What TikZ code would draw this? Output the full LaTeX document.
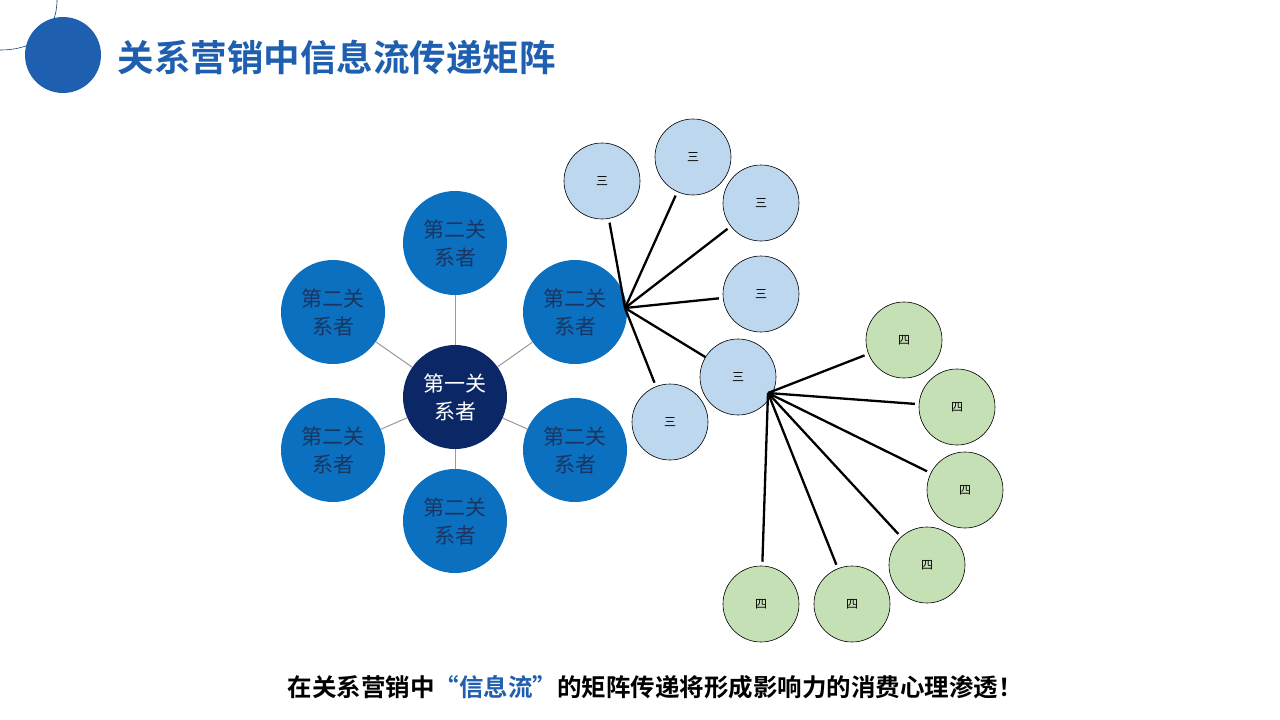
\documentclass[tikz,border=0pt]{standalone}
\usepackage{fontspec}
\newfontfamily\cjk{Noto Sans CJK SC}
\newfontfamily\cjkb{Noto Sans CJK SC Bold}
\definecolor{tblue}{HTML}{1F5FAF}
\definecolor{mblue}{HTML}{0A70BF}
\definecolor{dblue}{HTML}{0B2766}
\definecolor{lblue}{HTML}{BDD7EE}
\definecolor{lgreen}{HTML}{C5E0B4}
\definecolor{ntext}{HTML}{1B3560}
\begin{document}
\begin{tikzpicture}[x=1pt,y=-1pt,
  big/.style={circle,minimum size=104pt,inner sep=0pt,align=center,font=\cjk\fontsize{21}{28}\selectfont},
  outer/.style={big,fill=mblue,text=ntext},
  three/.style={circle,minimum size=76pt,inner sep=0pt,draw=black,line width=0.6pt,fill=lblue,font=\cjk\fontsize{12}{14}\selectfont},
  four/.style={three,fill=lgreen},
  thin/.style={draw=gray!80,line width=1pt},
  thick/.style={draw=black,line width=2.3pt}]
\useasboundingbox (0,0) rectangle (1280,720);
\fill[white] (0,0) rectangle (1280,720);
\draw[tblue!70!black,line width=0.6pt] (57,0) .. controls (57,32) and (35,50) .. (0,50);
\fill[tblue] (63,55) circle (38);
\node[anchor=west,text=tblue,font=\cjkb\fontsize{36.5}{40}\selectfont] (title) at (114,57) {关系营销中信息流传递矩阵};
% center cluster
\node[big,fill=dblue,text=white] (c) at (455,397) {第一关\\系者};
\node[outer] (o1) at (455,243) {第二关\\系者};
\node[outer] (o2) at (333,312) {第二关\\系者};
\node[outer] (o3) at (575,312) {第二关\\系者};
\node[outer] (o4) at (333,450) {第二关\\系者};
\node[outer] (o5) at (575,450) {第二关\\系者};
\node[outer] (o6) at (455,521) {第二关\\系者};
\foreach \o in {o1,o2,o3,o4,o5,o6} \draw[thin] (c) -- (\o);
% level three
\coordinate (h1) at (625,308);
\node[three] (t1) at (602,181) {三};
\node[three] (t2) at (693,157) {三};
\node[three] (t3) at (761,203) {三};
\node[three] (t4) at (761,294) {三};
\node[three] (t6) at (670,422) {三};
\foreach \t in {t1,t2,t3,t4,t6} \draw[thick,shorten >=4pt] (h1) -- (\t);
\node[three] (t5) at (738,377) {三};
\draw[thick] (h1) -- (t5);
% level four
\coordinate (h2) at (768,393);
\node[four] (f1) at (904,340) {四};
\node[four] (f2) at (957,407) {四};
\node[four] (f3) at (965,490) {四};
\node[four] (f4) at (927,565) {四};
\node[four] (f5) at (852,604) {四};
\node[four] (f6) at (761,604) {四};
\foreach \f in {f1,f2,f3,f4,f5,f6} \draw[thick,shorten >=4pt] (h2) -- (\f);
\node[font=\cjkb\fontsize{24.5}{28}\selectfont] (foot) at (655,687) {在关系营销中\textcolor{tblue}{“信息流”}的矩阵传递将形成影响力的消费心理渗透！};
\end{tikzpicture}
\end{document}
